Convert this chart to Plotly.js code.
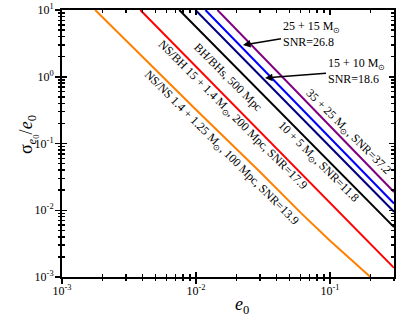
<!DOCTYPE html>
<html>
<head>
<meta charset="utf-8">
<script src="https://cdn.plot.ly/plotly-3.0.1.min.js"></script>
<style>html,body{margin:0;padding:0;background:#fff;}#chart{width:399px;height:318px;}</style>
</head>
<body>
<div id="chart"></div>
<script>
// ---- data (e0 vs sigma_e0/e0) ----
const nsnsE0 = [0.00177, 0.01, 0.0302, 0.06, 0.1, 0.15, 0.2];
const nsnsSig = [10, 0.32, 0.037, 0.0093, 0.0035, 0.00165, 0.001];

const nsbhE0 = [0.00384, 0.01, 0.03, 0.1, 0.3];
const nsbhSig = [10, 1.42, 0.151, 0.0129, 0.00137];

const bh10E0 = [0.0075, 0.01, 0.03, 0.1, 0.3];
const bh10Sig = [10, 5.57, 0.60, 0.052, 0.0056];

const bh15E0 = [0.0099, 0.03, 0.1, 0.3];
const bh15Sig = [10, 1.04, 0.089, 0.0095];

const bh25E0 = [0.01175, 0.03, 0.1, 0.3];
const bh25Sig = [10, 1.45, 0.121, 0.0126];

const bh35E0 = [0.01445, 0.03, 0.1, 0.3];
const bh35Sig = [10, 2.21, 0.182, 0.0188];

const xDecades = [0.001, 0.01, 0.1];
const xDecadeLabels = ['10<sup>-3</sup>', '10<sup>-2</sup>', '10<sup>-1</sup>'];
const yDecades = [0.001, 0.01, 0.1, 1, 10];
const yDecadeLabels = ['10<sup>-3</sup>', '10<sup>-2</sup>', '10<sup>-1</sup>', '10<sup>0</sup>', '10<sup>1</sup>'];
const mantissas = [1, 2, 3, 4, 5, 6, 7, 8, 9];

// ---- tick arrays ----
function allTicks(decades, maxVal) {
  const out = [];
  decades.forEach(d => mantissas.forEach(m => { const v = +(m * d).toPrecision(3); if (v <= maxVal * 1.0001) out.push(v); }));
  return out;
}
const xMax = 0.3, yMax = 10;
const xAll = allTicks(xDecades, xMax);
const yAll = allTicks(yDecades, yMax);

const serif = 'Liberation Serif, Times New Roman, serif';
const lw = 2;
function line(x, y, color) {
  return {x: x, y: y, type: 'scatter', mode: 'lines', line: {color: color, width: lw}, hoverinfo: 'skip', showlegend: false};
}
const traces = [
  line(nsnsE0, nsnsSig, '#FF8000'),
  line(nsbhE0, nsbhSig, '#FF0000'),
  line(bh10E0, bh10Sig, '#000000'),
  line(bh15E0, bh15Sig, '#000080'),
  line(bh25E0, bh25Sig, '#0000FF'),
  line(bh35E0, bh35Sig, '#800080'),
];
// empty traces to instantiate overlay axes used for tick styling
['2', '3', '4'].forEach(k => traces.push({x: [], y: [], type: 'scatter', mode: 'lines', xaxis: 'x' + k, yaxis: 'y' + k, showlegend: false, hoverinfo: 'skip'}));

const xr = [Math.log10(0.001), Math.log10(xMax)];
const yr = [Math.log10(0.001), Math.log10(yMax)];
const base = {type: 'log', showgrid: false, zeroline: false, tickcolor: '#000', tickwidth: 1.5, tickmode: 'array', fixedrange: true};
const tf = {family: serif, size: 12, color: '#000'};

const layout = {
  width: 399, height: 318,
  margin: {l: 62, r: 5, t: 10, b: 41},
  paper_bgcolor: '#fff', plot_bgcolor: '#fff',
  font: {family: serif, color: '#000', size: 12},
  showlegend: false,
  // labelled axes: decade (major) ticks, outside part
  xaxis: Object.assign({}, base, {range: xr, tickvals: xDecades, ticktext: xDecadeLabels, ticks: 'outside', ticklen: 5,
    ticklabelstandoff: -3, showline: true, linewidth: 2, linecolor: '#000', mirror: true, tickfont: tf}),
  yaxis: Object.assign({}, base, {range: yr, tickvals: yDecades, ticktext: yDecadeLabels, ticks: 'outside', ticklen: 5,
    ticklabelstandoff: -1, showline: true, linewidth: 2, linecolor: '#000', mirror: true, tickfont: tf}),
  // all ticks, inside part (mirrored to top/right)
  xaxis2: Object.assign({}, base, {range: xr, overlaying: 'x', anchor: 'y2', tickvals: xAll, ticks: 'inside', ticklen: 3, mirror: 'ticks', showticklabels: false, showline: false}),
  yaxis2: Object.assign({}, base, {range: yr, overlaying: 'y', anchor: 'x2', tickvals: yAll, ticks: 'inside', ticklen: 3, mirror: 'ticks', showticklabels: false, showline: false}),
  // all ticks, outside part
  xaxis3: Object.assign({}, base, {range: xr, overlaying: 'x', anchor: 'y3', tickvals: xAll, ticks: 'outside', ticklen: 3, showticklabels: false, showline: false}),
  yaxis3: Object.assign({}, base, {range: yr, overlaying: 'y', anchor: 'x3', tickvals: yAll, ticks: 'outside', ticklen: 3, showticklabels: false, showline: false}),
  // decade ticks, inside part
  xaxis4: Object.assign({}, base, {range: xr, overlaying: 'x', anchor: 'y4', tickvals: xDecades, ticks: 'inside', ticklen: 5, mirror: 'ticks', showticklabels: false, showline: false}),
  yaxis4: Object.assign({}, base, {range: yr, overlaying: 'y', anchor: 'x4', tickvals: yDecades, ticks: 'inside', ticklen: 5, mirror: 'ticks', showticklabels: false, showline: false}),
  annotations: [
    {xref: 'paper', yref: 'paper', x: -0.102, y: 0.532, xanchor: 'center', yanchor: 'middle', text: 'σ<sub><i>e</i><sub>0</sub></sub>/<i>e</i><sub>0</sub>', textangle: -90, showarrow: false, font: {family: serif, size: 18, color: '#000'}},
    {xref: 'paper', yref: 'paper', x: 0.542, y: -0.105, xanchor: 'center', yanchor: 'middle', text: '<i>e</i><sub>0</sub>', showarrow: false, font: {family: serif, size: 18, color: '#000'}},
    {xref: 'paper', yref: 'paper', x: (228 - 62) / 332, y: (277 - 77) / 267, xanchor: 'center', yanchor: 'middle', text: 'BH/BHs, 500 Mpc', textangle: 45, showarrow: false, font: tf},
    {xref: 'paper', yref: 'paper', x: (232 - 62) / 332, y: (277 - 115) / 267, xanchor: 'center', yanchor: 'middle', text: 'NS/BH 15 + 1.4 M<sub>⊙</sub>, 200 Mpc, SNR=17.9', textangle: 45, showarrow: false, font: tf},
    {xref: 'paper', yref: 'paper', x: (221 - 62) / 332, y: (277 - 148) / 267, xanchor: 'center', yanchor: 'middle', text: 'NS/NS 1.4 + 1.25 M<sub>⊙</sub>, 100 Mpc, SNR=13.9', textangle: 45, showarrow: false, font: tf},
    {xref: 'paper', yref: 'paper', x: (318 - 62) / 332, y: (277 - 162) / 267, xanchor: 'center', yanchor: 'middle', text: '10 + 5 M<sub>⊙</sub>, SNR=11.8', textangle: 45, showarrow: false, font: tf},
    {xref: 'paper', yref: 'paper', x: (348 - 62) / 332, y: (277 - 132) / 267, xanchor: 'center', yanchor: 'middle', text: '35 + 25 M<sub>⊙</sub>, SNR=37.2', textangle: 45, showarrow: false, font: tf},
    {xref: 'paper', yref: 'paper', x: (243 - 62) / 332, y: (277 - 45) / 267, ax: 68, ay: -11, text: '25 + 15 M<sub>⊙</sub><br>SNR=26.8', align: 'left',
      showarrow: true, arrowhead: 2, arrowsize: 1, arrowwidth: 1.5, arrowcolor: '#000', font: tf},
    {xref: 'paper', yref: 'paper', x: (265 - 62) / 332, y: (277 - 78) / 267, ax: 91, ay: -7, text: '15 + 10 M<sub>⊙</sub><br>SNR=18.6', align: 'left',
      showarrow: true, arrowhead: 2, arrowsize: 1, arrowwidth: 1.5, arrowcolor: '#000', font: tf},
  ]
};

Plotly.newPlot('chart', traces, layout, {staticPlot: true, displayModeBar: false});
</script>
</body>
</html>
